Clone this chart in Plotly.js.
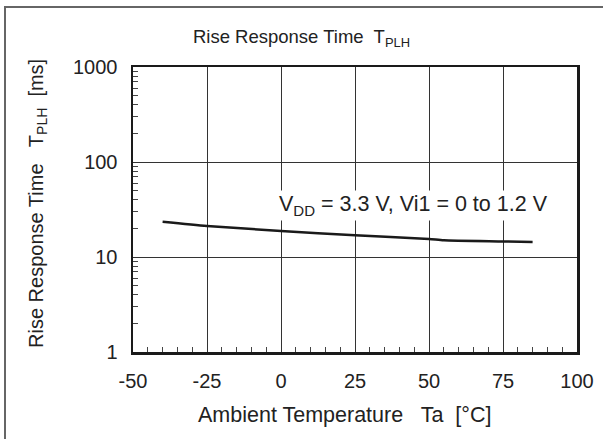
<!DOCTYPE html>
<html>
<head>
<meta charset="utf-8">
<script src="https://cdn.plot.ly/plotly-3.0.1.min.js"></script>
<style>
  html, body { margin: 0; padding: 0; background: #fff; }
  #chart { width: 603px; height: 439px; }
</style>
</head>
<body>
<div id="chart"></div>
<script>
// Data
const temperature = [-40, -25, 0, 25, 50, 55, 75, 85];          // Ta [°C]
const riseTime    = [23.5, 21.2, 18.8, 16.9, 15.5, 15.0, 14.6, 14.4]; // TPLH [ms]
const xTicks = [-50, -25, 0, 25, 50, 75, 100];
const xTickText = ['-50', '-25', '0', '25', '50', '75', '100'];
const yTicks = [1, 10, 100, 1000];
const yTickText = ['1', '10', '100', '1000'];
const chartTitle = 'Rise Response Time  T<sub>PLH</sub>';
const xTitle = 'Ambient Temperature   Ta  [°C]';
const yTitle = 'Rise Response Time   T<sub>PLH</sub>  [ms]';
const curveLabel = 'V<sub>DD</sub> = 3.3 V, Vi1 = 0 to 1.2 V';

const FONT = 'Liberation Sans, Arial, sans-serif';
const INK = '#222';

const trace = {
  x: temperature,
  y: riseTime,
  type: 'scatter',
  mode: 'lines',
  line: { color: '#1a1a1a', width: 2.5, shape: 'spline', smoothing: 0.6 },
  hoverinfo: 'x+y',
  showlegend: false
};

// plot area in pixels
const L = 133, R = 26, T = 67, B = 87;
const W = 603 - L - R, H = 439 - T - B;
const px = v => (v - L) / W;
const py = v => (439 - B - v) / H;

const layout = {
  width: 603,
  height: 439,
  margin: { l: L, r: R, t: T, b: B, pad: 0 },
  paper_bgcolor: '#fff',
  plot_bgcolor: '#fff',
  font: { family: FONT, size: 20, color: INK },
  showlegend: false,
  title: {
    text: chartTitle,
    font: { family: FONT, size: 18.5, color: INK },
    x: 0.5, xref: 'container', xanchor: 'center',
    y: 1 - 37 / 439, yref: 'container', yanchor: 'middle'
  },
  xaxis: {
    range: [-50, 100],
    tickvals: xTicks,
    ticktext: xTickText,
    ticks: 'inside', ticklen: 6, tickwidth: 1, tickcolor: '#333',
    ticklabelstandoff: 9,
    showgrid: true, gridcolor: '#333', gridwidth: 1,
    zeroline: false,
    showline: true, linecolor: '#1a1a1a', linewidth: 2.5, mirror: true,
    minor: { ticks: 'inside', ticklen: 5, tickwidth: 1, tickcolor: '#444', dtick: 5, showgrid: false },
    tickfont: { family: FONT, size: 20, color: INK }
  },
  yaxis: {
    type: 'log',
    range: [0, 3],
    tickvals: yTicks,
    ticktext: yTickText,
    ticks: 'inside', ticklen: 6, tickwidth: 1, tickcolor: '#333',
    ticklabelstandoff: 9,
    showgrid: true, gridcolor: '#333', gridwidth: 1,
    zeroline: false,
    showline: true, linecolor: '#1a1a1a', linewidth: 2.5, mirror: true,
    minor: { ticks: 'inside', ticklen: 5, tickwidth: 1, tickcolor: '#444', dtick: 'D1', showgrid: false },
    tickfont: { family: FONT, size: 20, color: INK }
  },
  annotations: [
    {
      text: curveLabel,
      xref: 'x', yref: 'paper',
      x: 44.8, xanchor: 'center',
      y: py(205), yanchor: 'middle',
      showarrow: false,
      bgcolor: '#fff',
      font: { family: FONT, size: 21.5, color: INK }
    },
    {
      text: xTitle,
      xref: 'paper', yref: 'paper',
      x: px(344), xanchor: 'center',
      y: py(415), yanchor: 'middle',
      showarrow: false,
      font: { family: FONT, size: 21.5, color: INK }
    },
    {
      text: yTitle,
      xref: 'paper', yref: 'paper',
      x: px(37), xanchor: 'center',
      y: py(204), yanchor: 'middle',
      textangle: -90,
      showarrow: false,
      font: { family: FONT, size: 20, color: INK }
    }
  ],
  shapes: [{
    type: 'rect', xref: 'paper', yref: 'paper', layer: 'below',
    x0: px(5), x1: px(620), y0: py(460), y1: py(7),
    line: { color: '#666', width: 2 }, fillcolor: 'rgba(0,0,0,0)'
  }]
};

Plotly.newPlot('chart', [trace], layout, { displayModeBar: false, staticPlot: true });
</script>
</body>
</html>
